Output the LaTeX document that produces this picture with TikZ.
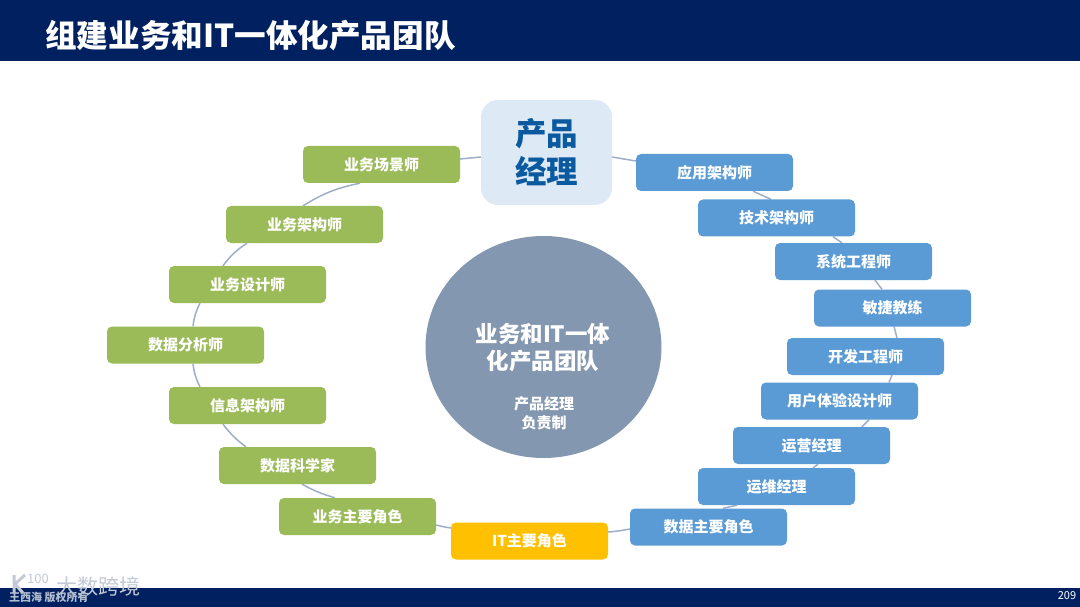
\documentclass[tikz,border=0pt]{standalone}
\usepackage{fontspec}
\setmainfont{Noto Sans CJK SC}
\usetikzlibrary{backgrounds,shapes.geometric}
\definecolor{navy}{HTML}{002060}
\definecolor{grn}{HTML}{9BBB59}
\definecolor{blu}{HTML}{5B9BD5}
\definecolor{amb}{HTML}{FFC000}
\definecolor{lite}{HTML}{DEE9F6}
\definecolor{disc}{HTML}{8497B0}
\definecolor{ring}{HTML}{9FAEC8}
\definecolor{ink}{HTML}{0B5AA0}
\definecolor{wmark}{HTML}{C3CAD6}
\tikzset{
 x=1pt,y=-1pt,
 role/.style={rounded corners=5pt,minimum width=157pt,minimum height=37pt,inner sep=0pt,text=white,font=\fontsize{15}{15}\selectfont\bfseries,align=center},
 grnrole/.style={role,fill=grn},
 blurole/.style={role,fill=blu},
 amberrole/.style={role,fill=amb},
 link/.style={draw=ring,line width=1.5pt}
}
\begin{document}
\begin{tikzpicture}
\useasboundingbox (0,0) rectangle (1080,607);
\fill[navy] (0,0) rectangle (1080,61);
\fill[navy] (0,588) rectangle (1080,607);
\node[anchor=west,inner sep=0pt,text=white,font=\fontsize{31.6}{32}\selectfont\bfseries] (title) at (45,36) {组建业务和IT一体化产品团队};
\node[inner sep=0pt,text=white,font=\fontsize{11}{11}\selectfont] (page) at (1067,596) {209};

\node[ellipse,fill=disc,minimum width=236pt,minimum height=222pt,inner sep=0pt] (disc) at (543.5,347) {};
\node[text=white,align=center,inner sep=0pt,font=\fontsize{22.5}{27}\selectfont\bfseries] (disctitle) at (543,348) {业务和IT一体\\化产品团队};
\node[text=white,align=center,inner sep=0pt,font=\fontsize{15}{19}\selectfont\bfseries] (discsub) at (544,413) {产品经理\\负责制};

\node[rounded corners=17pt,fill=lite,minimum width=131pt,minimum height=105pt,inner sep=0pt,text=ink,align=center,font=\fontsize{31.5}{38}\selectfont\bfseries] (pm) at (546.5,152.5) {产品\\经理};

\node[grnrole] (g1) at (381.5,164.5) {业务场景师};
\node[grnrole] (g2) at (304.5,224.5) {业务架构师};
\node[grnrole] (g3) at (247.5,284.5) {业务设计师};
\node[grnrole] (g4) at (185.5,345) {数据分析师};
\node[grnrole] (g5) at (247.5,405.5) {信息架构师};
\node[grnrole] (g6) at (297.5,465.5) {数据科学家};
\node[grnrole] (g7) at (357.5,516.5) {业务主要角色};
\node[amberrole] (it) at (529.5,541) {IT主要角色};
\node[blurole] (b9) at (708.5,527) {数据主要角色};
\node[blurole] (b8) at (776.5,486.5) {运维经理};
\node[blurole] (b7) at (811.5,445.5) {运营经理};
\node[blurole] (b6) at (839.5,401) {用户体验设计师};
\node[blurole] (b5) at (865.5,356.5) {开发工程师};
\node[blurole] (b4) at (892.5,308) {敏捷教练};
\node[blurole] (b3) at (853.5,261.5) {系统工程师};
\node[blurole] (b2) at (776.5,218) {技术架构师};
\node[blurole] (b1) at (714.5,172.5) {应用架构师};

\begin{scope}[on background layer]
\fill[white] (0,0) rectangle (1080,607);
\path[link] ([yshift=-4.5pt]pm.west) -- ([yshift=5.5pt]g1.east);
\path[link] ([xshift=-21.5pt]g1.south) to[bend right=10] ([xshift=-1.5pt]g2.north);
\path[link] ([xshift=-57.5pt]g2.south) to[bend right=10] ([xshift=-24.5pt]g3.north);
\path[link] ([xshift=-47.5pt]g3.south) to[bend right=10] ([xshift=7.5pt]g4.north);
\path[link] ([xshift=7.5pt]g4.south) to[bend right=10] ([xshift=-47.5pt]g5.north);
\path[link] ([xshift=-24.5pt]g5.south) to[bend right=8] ([xshift=-51.5pt]g6.north);
\path[link] ([xshift=4.5pt]g6.south) to[bend right=6] ([xshift=-22.5pt]g7.north);
\path[link] ([yshift=-8.5pt]g7.east) to[bend right=3] ([yshift=13pt]it.west);
\path[link] ([yshift=9pt]it.east) to[bend right=3] ([yshift=-2pt]b9.west);
\path[link] ([xshift=14.5pt]b9.north) -- ([xshift=-39.5pt]b8.south);
\path[link] ([xshift=36.5pt]b8.north) -- ([xshift=6.5pt]b7.south);
\path[link] ([xshift=50.5pt]b7.north) -- ([xshift=29.5pt]b6.south);
\path[link] ([xshift=49.5pt]b6.north) -- ([xshift=26.5pt]b5.south);
\path[link] ([xshift=31.5pt]b5.north) -- ([xshift=1.5pt]b4.south);
\path[link] ([xshift=-10.5pt]b4.north) -- ([xshift=21.5pt]b3.south);
\path[link] ([xshift=-11.5pt]b3.north) -- ([xshift=56.5pt]b2.south);
\path[link] ([xshift=-5.5pt]b2.north) -- ([xshift=38.5pt]b1.south);
\path[link] ([yshift=11.5pt]b1.west) -- ([yshift=-4.5pt]pm.east);
\end{scope}

\node[anchor=west,inner sep=0pt,text=wmark,font=\fontsize{21}{21}\selectfont] (wm) at (56,586) {大数跨境};
\node[anchor=west,inner sep=0pt,text=wmark,font=\fontsize{13}{13}\selectfont] (wmlogo) at (27,579) {100};
\draw[wmark,line width=3pt] (14,575) -- (14,593) (25,575) -- (15,584) -- (23,593);
\node[anchor=west,inner sep=0pt,text=white!70!navy,font=\fontsize{11}{11}\selectfont\bfseries] (owner) at (9,597) {王西海 版权所有};
\end{tikzpicture}
\end{document}
